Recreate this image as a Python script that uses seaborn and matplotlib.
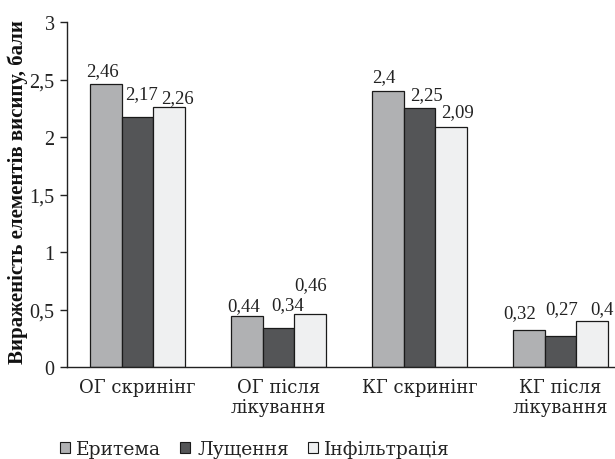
import numpy as np
import pandas as pd
import matplotlib
matplotlib.use("Agg")
import matplotlib.pyplot as plt
import seaborn as sns
from matplotlib.patches import Patch

groups = ["ОГ скринінг", "ОГ після\nлікування", "КГ скринінг", "КГ після\nлікування"]
series = ["Еритема", "Лущення", "Інфільтрація"]
erythema = [2.46, 0.44, 2.40, 0.32]
scaling = [2.17, 0.34, 2.25, 0.27]
infiltration = [2.26, 0.46, 2.09, 0.40]
value_text = [
    ["2,46", "0,44", "2,4", "0,32"],
    ["2,17", "0,34", "2,25", "0,27"],
    ["2,26", "0,46", "2,09", "0,4"],
]
y_ticks = [0, 0.5, 1, 1.5, 2, 2.5, 3]
y_tick_labels = ["0", "0,5", "1", "1,5", "2", "2,5", "3"]
colors = ["#b0b1b3", "#545557", "#eff0f1"]

# hand-placed label nudges (pixels right, pixels up from the bar top)
label_nudge = [
    [(-4, 14), (-3, 11), (-4, 14.5), (-9, 18)],
    [(4, 24), (9, 23), (7, 14), (1, 27)],
    [(8, 10), (1, 30), (7, 15), (10, 12)],
]

df = pd.DataFrame({
    "group": groups * 3,
    "series": [s for s in series for _ in groups],
    "value": erythema + scaling + infiltration,
})

sns.set_theme(style="white")
plt.rcParams["font.family"] = ["DejaVu Serif"]
num_font = ["Liberation Serif", "DejaVu Serif"]

fig = plt.figure(figsize=(6.15, 4.6), dpi=100)
ax = fig.add_axes([67 / 615, 92 / 460, 564 / 615, 345 / 460])

sns.barplot(data=df, x="group", y="value", hue="series", order=groups,
            hue_order=series, palette=colors, width=0.67, saturation=1,
            edgecolor="#1a1a1a", linewidth=0.9, legend=False, ax=ax)

px = 72 / fig.dpi
for cont, labels, nudges in zip(ax.containers, value_text, label_nudge):
    for bar, text, (dx, dy) in zip(cont.patches, labels, nudges):
        ax.annotate(text, xy=(bar.get_x() + bar.get_width() / 2, bar.get_height()),
                    xytext=(dx * px, dy * px), textcoords="offset points",
                    ha="center", va="center", fontsize=13.5, color="#222222",
                    family=num_font, annotation_clip=False)

ax.set_xlim(-0.5, 3.5)
ax.set_ylim(0, 3)
ax.set_yticks(y_ticks)
ax.set_yticklabels(y_tick_labels, fontsize=14.5, color="#222222", family=num_font)
ax.set_xticks(range(len(groups)))
ax.set_xticklabels(groups, fontsize=13, color="#222222", linespacing=1.1)
ax.set_xticks(np.arange(-0.5, 3.6, 1), minor=True)
ax.tick_params(axis="x", which="major", length=0, pad=8)
ax.tick_params(axis="x", which="minor", length=5, width=1, direction="out", color="#222222")
ax.tick_params(axis="y", length=5, width=1, direction="out", left=True, color="#222222", pad=4)

ax.set_xlabel("")
ax.set_ylabel("Вираженість елементів висипу, бали", fontsize=15,
              fontweight="bold", color="#111111", family=num_font)
ax.yaxis.set_label_coords(-39 / 564, 0.51)

for side in ["top", "right"]:
    ax.spines[side].set_visible(False)
for side in ["left", "bottom"]:
    ax.spines[side].set_color("#222222")
    ax.spines[side].set_linewidth(1)

handles = [Patch(facecolor=c, edgecolor="#1a1a1a", linewidth=0.8) for c in colors]
fig.legend(handles, series, loc="lower left", bbox_to_anchor=(52 / 615, -0.015),
           ncol=3, frameon=False, fontsize=13.5, handlelength=0.55, handleheight=0.55,
           handletextpad=0.35, columnspacing=1.0, borderaxespad=0.0,
           labelcolor="#222222")

fig.savefig("out.png", dpi=100)
